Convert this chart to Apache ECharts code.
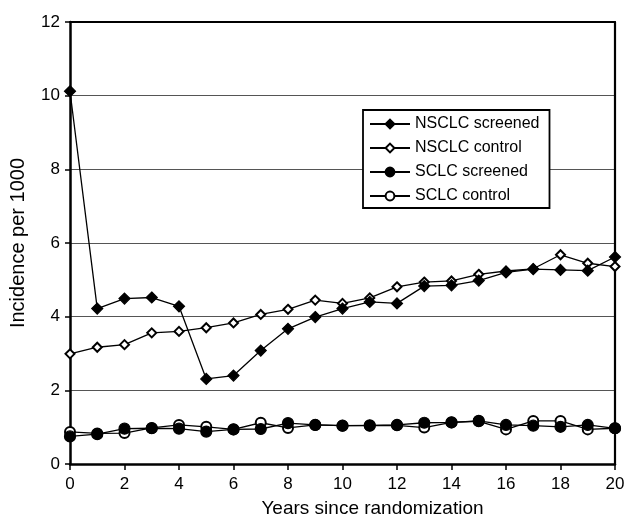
<!DOCTYPE html>
<html><head><meta charset="utf-8">
<script src="https://cdn.jsdelivr.net/npm/echarts@6/dist/echarts.min.js"></script>
<style>html,body{margin:0;padding:0;background:#fff}#c{width:640px;height:528px}</style>
</head><body><div id="c"></div>
<script>
var years = [0,1,2,3,4,5,6,7,8,9,10,11,12,13,14,15,16,17,18,19,20];
var nsclcScreened = [10.12,4.22,4.49,4.52,4.28,2.31,2.40,3.08,3.67,3.99,4.22,4.40,4.36,4.83,4.85,4.98,5.20,5.29,5.27,5.25,5.62];
var nsclcControl = [2.99,3.17,3.24,3.56,3.60,3.70,3.83,4.06,4.20,4.45,4.36,4.51,4.81,4.94,4.97,5.15,5.24,5.30,5.68,5.45,5.36];
var sclcScreened = [0.75,0.81,0.96,0.97,0.96,0.88,0.94,0.95,1.11,1.06,1.04,1.05,1.06,1.12,1.13,1.17,1.06,1.04,1.01,1.06,0.97];
var sclcControl = [0.87,0.83,0.84,0.98,1.06,1.01,0.94,1.12,0.98,1.06,1.04,1.04,1.05,0.99,1.13,1.16,0.94,1.17,1.17,0.94,0.97];
var yTicks = [0,2,4,6,8,10,12];

function pairs(v){return years.map(function(x,i){return [x,v[i]];});}
var font = 'Liberation Sans, Arial, sans-serif';
var chart = echarts.init(document.getElementById('c'));
function ser(name, data, symbol, size, z){
  return {name:name,type:'line',data:pairs(data),symbol:symbol,symbolSize:size,z:z,
    lineStyle:{color:'#000',width:1.3},
    itemStyle:{color:'#000',borderColor:'#000',borderWidth:1.2},
    emphasis:{disabled:true},animation:false};
}
chart.setOption({
  animation:false,
  grid:{left:70,right:25,top:22,bottom:64,containLabel:false},
  legend:{orient:'vertical',left:363,top:110,padding:[6,10,4,6],itemGap:8,itemWidth:40,itemHeight:11,
    borderColor:'#000',borderWidth:1.8,backgroundColor:'#fff',
    textStyle:{fontFamily:font,fontSize:16,color:'#000'},
    data:['NSCLC screened','NSCLC control','SCLC screened','SCLC control']},
  xAxis:[{type:'value',min:0,max:20,interval:2,
    name:'Years since randomization',nameLocation:'middle',nameGap:35,
    nameTextStyle:{fontFamily:font,fontSize:19,color:'#000',padding:[0,0,0,60]},
    axisLine:{show:true,lineStyle:{color:'#000',width:2.5}},
    axisTick:{show:true,length:6,lineStyle:{color:'#000',width:1.5}},
    axisLabel:{fontFamily:font,fontSize:17,color:'#000',margin:12},
    splitLine:{show:false}},
   {type:'value',min:0,max:20,interval:2,position:'top',
    axisLine:{show:true,onZero:false,lineStyle:{color:'#000',width:2}},
    axisTick:{show:false},axisLabel:{show:false},splitLine:{show:false}}],
  yAxis:[{type:'value',min:0,max:12,interval:2,
    name:'Incidence per 1000',nameLocation:'middle',nameGap:42,
    nameTextStyle:{fontFamily:font,fontSize:20,color:'#000'},
    axisLine:{show:true,lineStyle:{color:'#000',width:2.5}},
    axisTick:{show:true,length:5,lineStyle:{color:'#000',width:1.5}},
    axisLabel:{fontFamily:font,fontSize:17,color:'#000',margin:10,
      formatter:function(v){return yTicks.indexOf(v)>=0?String(v):'';}},
    splitLine:{show:true,lineStyle:{color:'#555',width:1.2}}},
   {type:'value',min:0,max:12,interval:2,position:'right',
    axisLine:{show:true,onZero:false,lineStyle:{color:'#000',width:2.2}},
    axisTick:{show:false},axisLabel:{show:false},splitLine:{show:false}}],
  series:[
    ser('NSCLC control', nsclcControl, 'emptyDiamond', 9, 2),
    ser('NSCLC screened', nsclcScreened, 'diamond', 11, 3),
    ser('SCLC control', sclcControl, 'emptyCircle', 10, 4),
    ser('SCLC screened', sclcScreened, 'circle', 11, 5)
  ]
});
</script></body></html>
